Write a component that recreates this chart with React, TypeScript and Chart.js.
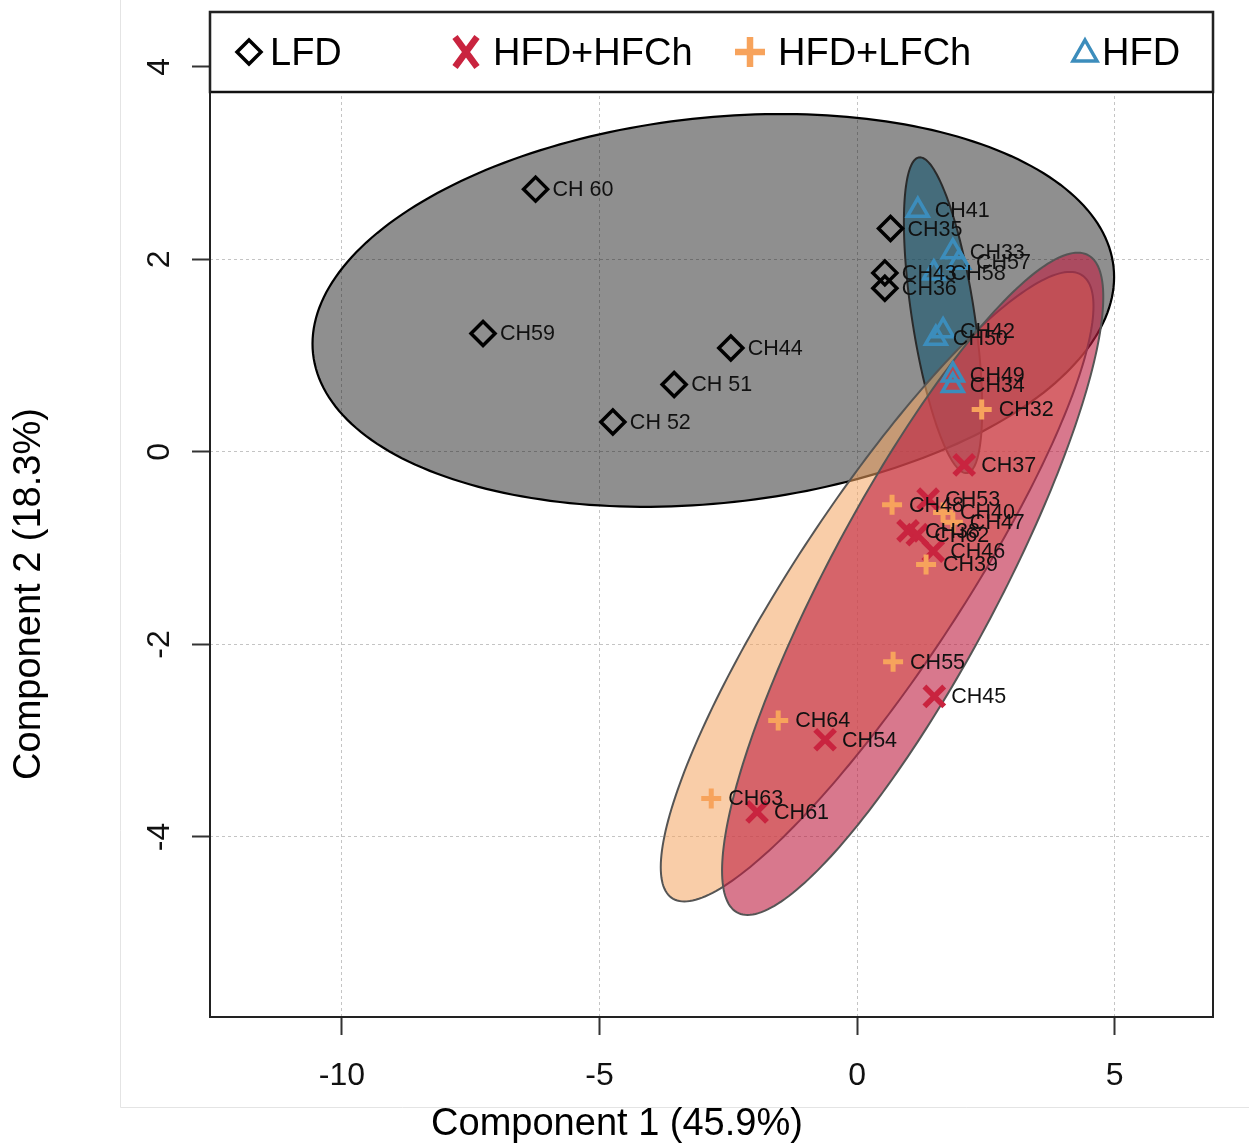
import React, { useEffect, useRef } from 'react';
import { Chart, registerables } from 'chart.js';

Chart.register(...registerables);

// ---------- data ----------
const groupNames = ['LFD', 'HFD+HFCh', 'HFD+LFCh', 'HFD'];

const lfdLabels = ['CH 60', 'CH59', 'CH44', 'CH 51', 'CH 52', 'CH35', 'CH43', 'CH36'];
const lfdX = [-6.24, -7.26, -2.45, -3.55, -4.74, 0.65, 0.54, 0.54];
const lfdY = [2.73, 1.23, 1.08, 0.7, 0.31, 2.32, 1.86, 1.7];

const hfdLabels = ['CH41', 'CH33', 'CH57', 'CH58', 'CH42', 'CH50', 'CH49', 'CH34'];
const hfdX = [1.18, 1.86, 1.98, 1.49, 1.67, 1.53, 1.86, 1.86];
const hfdY = [2.51, 2.08, 1.97, 1.86, 1.26, 1.18, 0.8, 0.69];

const lfchLabels = ['CH32', 'CH48', 'CH40', 'CH47', 'CH39', 'CH55', 'CH64', 'CH63'];
const lfchX = [2.42, 0.68, 1.67, 1.86, 1.34, 0.7, -1.53, -2.83];
const lfchY = [0.44, -0.55, -0.63, -0.73, -1.17, -2.18, -2.79, -3.6];

const hfchLabels = ['CH37', 'CH53', 'CH38', 'CH62', 'CH46', 'CH45', 'CH54', 'CH61'];
const hfchX = [2.08, 1.38, 0.99, 1.17, 1.48, 1.5, -0.62, -1.94];
const hfchY = [-0.135, -0.49, -0.82, -0.86, -1.03, -2.54, -2.99, -3.74];

const xTicks = [-10, -5, 0, 5];
const yTicks = [4, 2, 0, -2, -4];
const xRange = [-12.56, 6.91];
const yRange = [-5.87, 4.57];

const xTitle = 'Component 1 (45.9%)';
const yTitle = 'Component 2 (18.3%)';

// confidence ellipses: centre, half extents, correlation (data units)
const ellipseGroups = ['LFD', 'HFD', 'HFD+LFCh', 'HFD+HFCh'];
const ellipseCx = [-2.79, 1.67, 0.39, 1.08];
const ellipseCy = [1.47, 1.42, -1.4, -1.37];
const ellipseSx = [7.78, 0.76, 4.2, 3.7];
const ellipseSy = [2.04, 1.64, 3.27, 3.44];
const ellipseR = [0.17, -0.59, 0.891, 0.866];

// ---------- styles ----------
const FONT = '"Liberation Sans", Arial, Helvetica, sans-serif';
const colLFD = '#000000';
const colHFCh = '#c9243f';
const colLFCh = '#f7a35c';
const colHFD = '#3c8dbc';
const ellipseFill = ['rgba(0,0,0,0.44)', 'rgba(20,85,110,0.6)', 'rgba(244,164,96,0.55)', 'rgba(190,30,65,0.6)'];
const ellipseStroke = ['#000000', '#2a2a2a', '#555555', '#555555'];

const toPts = (xs: number[], ys: number[]) => xs.map((x, i) => ({ x, y: ys[i] }));

const pcaPlugin = {
  id: 'pcaPlugin',
  beforeDraw(chart: any) {
    const { ctx, width, height } = chart;
    ctx.save();
    ctx.fillStyle = '#ffffff';
    ctx.fillRect(0, 0, width, height);
    ctx.restore();
  },
  beforeDatasetsDraw(chart: any) {
    const { ctx, scales } = chart;
    const xs = scales.x, ys = scales.y;
    ctx.save();
    for (let i = 0; i < ellipseGroups.length; i++) {
      const cx = ellipseCx[i], cy = ellipseCy[i], sx = ellipseSx[i], sy = ellipseSy[i], r = ellipseR[i];
      const q = Math.sqrt(1 - r * r);
      ctx.beginPath();
      const N = 240;
      for (let k = 0; k <= N; k++) {
        const t = (k / N) * Math.PI * 2;
        const x = cx + sx * Math.cos(t);
        const y = cy + sy * (r * Math.cos(t) + q * Math.sin(t));
        const px = xs.getPixelForValue(x), py = ys.getPixelForValue(y);
        if (k === 0) ctx.moveTo(px, py); else ctx.lineTo(px, py);
      }
      ctx.closePath();
      ctx.fillStyle = ellipseFill[i];
      ctx.fill();
      ctx.lineWidth = i === 0 ? 2.2 : 2;
      ctx.strokeStyle = ellipseStroke[i];
      ctx.stroke();
    }
    ctx.restore();
  },
  afterDatasetsDraw(chart: any) {
    const { ctx, scales } = chart;
    const sets = [
      [lfdLabels, lfdX, lfdY],
      [hfdLabels, hfdX, hfdY],
      [lfchLabels, lfchX, lfchY],
      [hfchLabels, hfchX, hfchY],
    ] as [string[], number[], number[]][];
    ctx.save();
    ctx.font = `21.5px ${FONT}`;
    ctx.fillStyle = '#111111';
    ctx.textAlign = 'left';
    ctx.textBaseline = 'middle';
    for (const [labs, xsArr, ysArr] of sets) {
      labs.forEach((l, i) => {
        const px = scales.x.getPixelForValue(xsArr[i]);
        const py = scales.y.getPixelForValue(ysArr[i]);
        ctx.fillText(l, px + 17, py + 1);
      });
    }
    ctx.restore();
  },
  afterDraw(chart: any) {
    const { ctx, chartArea, scales } = chart;
    const { left, right, top, bottom } = chartArea;
    ctx.save();

    // faint page frame
    ctx.strokeStyle = '#e4e4e4';
    ctx.lineWidth = 1;
    ctx.beginPath();
    ctx.moveTo(120.5, 0);
    ctx.lineTo(120.5, 1107.5);
    ctx.lineTo(1249, 1107.5);
    ctx.stroke();

    // legend box
    const lgTop = top, lgBottom = top + 80;
    ctx.fillStyle = '#ffffff';
    ctx.fillRect(left, lgTop, right - left, lgBottom - lgTop);
    ctx.strokeStyle = '#111111';
    ctx.lineWidth = 2.5;
    ctx.strokeRect(left, lgTop, right - left, lgBottom - lgTop);

    const cy = lgTop + 40;
    // diamond
    const dx = left + 39;
    ctx.beginPath();
    ctx.moveTo(dx, cy - 12); ctx.lineTo(dx + 12, cy); ctx.lineTo(dx, cy + 12); ctx.lineTo(dx - 12, cy); ctx.closePath();
    ctx.strokeStyle = colLFD; ctx.lineWidth = 3.5; ctx.stroke();
    // X
    const xx = left + 256;
    ctx.beginPath();
    ctx.moveTo(xx - 11, cy - 15); ctx.lineTo(xx + 11, cy + 15);
    ctx.moveTo(xx + 11, cy - 15); ctx.lineTo(xx - 11, cy + 15);
    ctx.strokeStyle = colHFCh; ctx.lineWidth = 6.5; ctx.stroke();
    // plus
    const px = left + 540;
    ctx.beginPath();
    ctx.moveTo(px - 15, cy); ctx.lineTo(px + 15, cy);
    ctx.moveTo(px, cy - 15); ctx.lineTo(px, cy + 15);
    ctx.strokeStyle = colLFCh; ctx.lineWidth = 6.5; ctx.stroke();
    // triangle
    const tx = left + 875;
    ctx.beginPath();
    ctx.moveTo(tx, cy - 12); ctx.lineTo(tx + 12, cy + 9); ctx.lineTo(tx - 12, cy + 9); ctx.closePath();
    ctx.strokeStyle = colHFD; ctx.lineWidth = 3.5; ctx.stroke();

    ctx.fillStyle = '#000000';
    ctx.font = `38px ${FONT}`;
    ctx.textAlign = 'left';
    ctx.textBaseline = 'middle';
    ctx.fillText(groupNames[0], left + 60, cy + 3);
    ctx.fillText(groupNames[1], left + 283, cy + 3);
    ctx.fillText(groupNames[2], left + 568, cy + 3);
    ctx.fillText(groupNames[3], left + 892, cy + 3);

    // plot box
    ctx.strokeStyle = '#222222';
    ctx.lineWidth = 2;
    ctx.strokeRect(left, top, right - left, bottom - top);

    // tick labels
    ctx.font = `32px ${FONT}`;
    ctx.fillStyle = '#111111';
    ctx.textAlign = 'center';
    ctx.textBaseline = 'middle';
    xTicks.forEach((v) => {
      ctx.fillText(String(v), scales.x.getPixelForValue(v), bottom + 59);
    });
    yTicks.forEach((v) => {
      ctx.save();
      ctx.translate(left - 50, scales.y.getPixelForValue(v));
      ctx.rotate(-Math.PI / 2);
      ctx.fillText(String(v), 0, 0);
      ctx.restore();
    });

    // axis titles
    ctx.font = `38px ${FONT}`;
    ctx.fillStyle = '#000000';
    ctx.fillText(xTitle, 617, 1125);
    ctx.save();
    ctx.translate(30, 594);
    ctx.rotate(-Math.PI / 2);
    ctx.fillText(yTitle, 0, 0);
    ctx.restore();

    ctx.restore();
  },
};

export default function App() {
  const ref = useRef<HTMLCanvasElement | null>(null);

  useEffect(() => {
    if (!ref.current) return;
    const gridCommon = {
      color: '#c4c4c4',
      lineWidth: 1,
      drawTicks: true,
      tickLength: 18,
      tickColor: '#333333',
      tickWidth: 2,
      tickBorderDash: [],
    };
    const chart = new Chart(ref.current, {
      type: 'scatter',
      data: {
        datasets: [
          {
            label: 'LFD',
            data: toPts(lfdX, lfdY),
            pointStyle: 'rectRot',
            pointRadius: 12,
            borderColor: colLFD,
            backgroundColor: 'rgba(0,0,0,0)',
            borderWidth: 3.5,
          },
          {
            label: 'HFD',
            data: toPts(hfdX, hfdY),
            pointStyle: 'triangle',
            pointRadius: 12,
            borderColor: colHFD,
            backgroundColor: 'rgba(0,0,0,0)',
            borderWidth: 3.5,
          },
          {
            label: 'HFD+LFCh',
            data: toPts(lfchX, lfchY),
            pointStyle: 'cross',
            pointRadius: 10,
            borderColor: colLFCh,
            backgroundColor: colLFCh,
            borderWidth: 5,
          },
          {
            label: 'HFD+HFCh',
            data: toPts(hfchX, hfchY),
            pointStyle: 'crossRot',
            pointRadius: 14,
            borderColor: colHFCh,
            backgroundColor: colHFCh,
            borderWidth: 5.5,
          },
        ],
      },
      options: {
        responsive: false,
        animation: false,
        events: [],
        layout: { autoPadding: false, padding: { left: 0, right: 36, top: 12, bottom: 0 } },
        plugins: { legend: { display: false }, tooltip: { enabled: false } },
        scales: {
          x: {
            type: 'linear',
            min: xRange[0],
            max: xRange[1],
            afterBuildTicks: (s: any) => { s.ticks = xTicks.map((v) => ({ value: v })); },
            afterFit: (s: any) => { s.height = 130; },
            ticks: { display: false },
            grid: gridCommon,
            border: { display: false, dash: [3, 3] },
          },
          y: {
            type: 'linear',
            min: yRange[0],
            max: yRange[1],
            afterBuildTicks: (s: any) => { s.ticks = yTicks.map((v) => ({ value: v })); },
            afterFit: (s: any) => { s.width = 210; },
            ticks: { display: false },
            grid: gridCommon,
            border: { display: false, dash: [3, 3] },
          },
        },
      } as any,
      plugins: [pcaPlugin],
    });
    return () => chart.destroy();
  }, []);

  return (
    <div style={{ position: 'absolute', left: 0, top: 0, width: 1249, height: 1147, background: '#fff' }}>
      <canvas ref={ref} width={1249} height={1147} style={{ display: 'block', width: 1249, height: 1147 }} />
    </div>
  );
}
